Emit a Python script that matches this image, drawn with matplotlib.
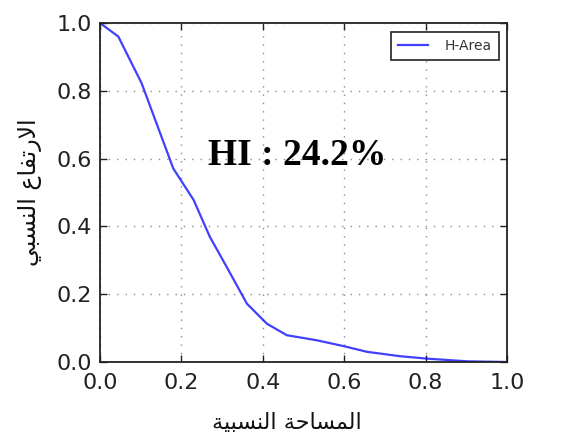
import matplotlib
matplotlib.use("Agg")
import matplotlib.pyplot as plt

# Data
rel_area = [0.0, 0.045, 0.102, 0.180, 0.230, 0.270, 0.311, 0.361, 0.410, 0.459,
            0.533, 0.598, 0.656, 0.738, 0.803, 0.902, 1.0]
rel_height = [1.0, 0.96, 0.823, 0.571, 0.478, 0.369, 0.281, 0.172, 0.113, 0.079,
              0.064, 0.047, 0.030, 0.017, 0.010, 0.002, 0.0]
series_name = "H-Area"
hi_text = "HI : 24.2%"
xticks = [0.0, 0.2, 0.4, 0.6, 0.8, 1.0]
yticks = [0.0, 0.2, 0.4, 0.6, 0.8, 1.0]
# Arabic labels (presentation forms, visual order): "المساحة النسبية" / "الارتفاع النسبي"
xlabel = "\uFE94\uFEF4\uFE92\uFEB4\uFEE8\uFEDF\uFE8D \uFE94\uFEA3\uFE8E\uFEB4\uFEE4\uFEDF\uFE8D"
ylabel = "\uFEF2\uFE92\uFEB4\uFEE8\uFEDF\uFE8D \uFEC9\uFE8E\uFED4\uFE97\uFEAD\uFEFB\uFE8D"

fig = plt.figure(figsize=(5.77, 4.42), dpi=100)
ax = fig.add_axes([100/577, 1 - 362/442, 407/577, 339/442])

ax.plot(rel_area, rel_height, color="#0000ff", lw=1.6, alpha=0.75, label=series_name)
ax.set_xlim(0, 1)
ax.set_ylim(0, 1)
ax.set_xticks(xticks)
ax.set_yticks(yticks)
ax.set_xticklabels([f"{t:.1f}" for t in xticks])
ax.set_yticklabels([f"{t:.1f}" for t in yticks])
ax.tick_params(direction="in", top=True, right=True, length=5, width=1,
               labelsize=16, pad=6, colors="#222222")
ax.tick_params(axis="x", pad=8)
for s in ax.spines.values():
    s.set_linewidth(1.3)
    s.set_color("#222222")
ax.grid(True, linestyle=(0, (1, 5)), color="#8a8a8a", lw=1.0)

ax.text(0.485, 0.61, hi_text, fontsize=27, fontweight="bold",
        family=["Liberation Serif"], ha="center", va="center")

leg = ax.legend(loc="upper right", fontsize=10, fancybox=False, framealpha=1,
                edgecolor="#222222", handlelength=2.2, borderpad=0.5,
                handletextpad=1.2, bbox_to_anchor=(0.997, 0.995))
leg.get_frame().set_linewidth(1.2)
for t in leg.get_texts():
    t.set_color("#333333")

ax.set_xlabel(xlabel, fontsize=16, family=["DejaVu Sans"], labelpad=11, color="#111111")
ax.xaxis.set_label_coords(0.46, -0.15)
ax.set_ylabel(ylabel, fontsize=17, family=["DejaVu Sans"], labelpad=10, color="#111111")

fig.savefig("out.png", dpi=100, facecolor="white")
